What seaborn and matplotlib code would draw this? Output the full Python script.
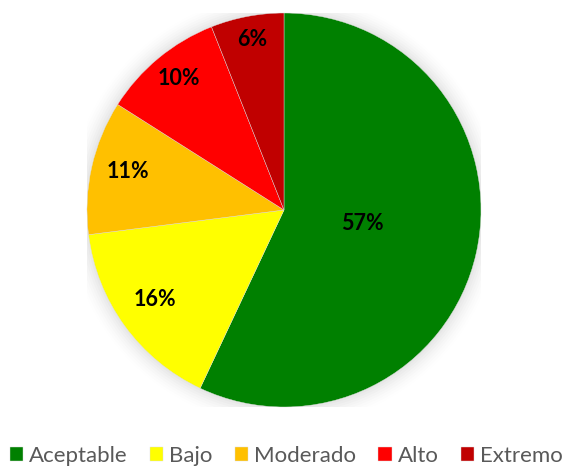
import numpy as np
import matplotlib
matplotlib.use('Agg')
import matplotlib.pyplot as plt
import seaborn as sns
from matplotlib.patches import Circle

# ── Data ────────────────────────────────────────────────────────────────────
categories = ['Aceptable', 'Bajo', 'Moderado', 'Alto', 'Extremo']
values     = [57, 16, 11, 10, 6]
colors     = ['#008000', '#FFFF00', '#FFC000', '#FF0000', '#C00000']
label_dist = [0.41, 0.81, 0.81, 0.84, 0.86]   # Excel-like label placement
# ────────────────────────────────────────────────────────────────────────────

sns.set_style('white')
plt.rcParams['font.family'] = ['Lato', 'DejaVu Sans']

W, H = 567, 469
cx, cy, r = 284, 210, 197
fig = plt.figure(figsize=(W / 100, H / 100), dpi=100)
ax = fig.add_axes([(cx - r) / W, (H - cy - r) / H, 2 * r / W, 2 * r / H])

# soft shadow around the pie
for i, a in enumerate(np.linspace(0.018, 0.004, 8)):
    ax.add_patch(Circle((0, 0), 1.0 + 0.012 * (i + 1), color='black', alpha=a,
                        lw=0, zorder=0))

wedges, _ = ax.pie(values, colors=colors, startangle=90, counterclock=False,
                   radius=1.0, wedgeprops=dict(linewidth=0.3, edgecolor='#dddddd'))

total = sum(values)
for w, v, d in zip(wedges, values, label_dist):
    ang = np.deg2rad((w.theta1 + w.theta2) / 2)
    ax.text(d * np.cos(ang), d * np.sin(ang) + 0.02, f'{v / total * 100:.0f}%',
            ha='center', va='center', fontsize=15.5, fontweight='bold', color='black')

ax.set_xlim(-1, 1)
ax.set_ylim(-1, 1)
ax.axis('off')

leg = fig.legend(wedges, categories, loc='lower center', ncol=5,
                 bbox_to_anchor=(0.505, -0.036), frameon=False, fontsize=16,
                 handlelength=0.6, handleheight=0.6, handletextpad=0.27,
                 columnspacing=1.0, labelcolor='#595959')

fig.savefig('out.png', dpi=100)
